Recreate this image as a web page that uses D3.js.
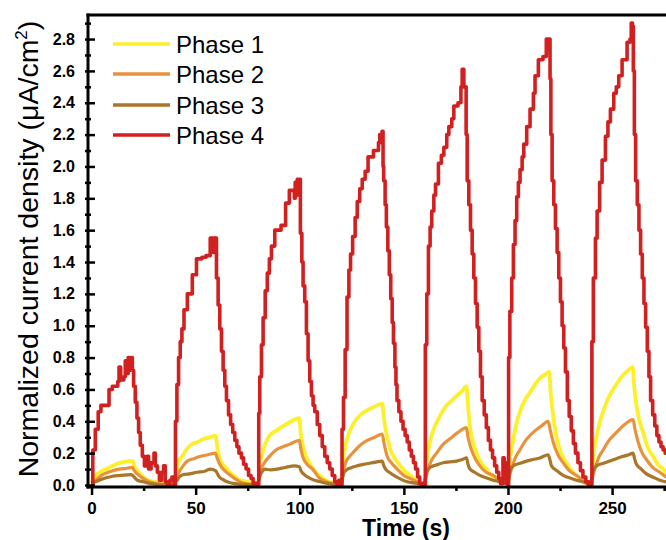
<!DOCTYPE html>
<html>
<head>
<meta charset="utf-8">
<script src="https://cdn.jsdelivr.net/npm/d3@7"></script>
<style>
  body { margin: 0; background: #fff; }
  svg { display: block; font-family: "Liberation Sans", Arial, sans-serif; }
  .tick text { font-weight: bold; font-size: 16px; fill: #000; font-family: "Liberation Sans", Arial, sans-serif; }
</style>
</head>
<body>
<div class="canvas"></div>
<script>
// ---- data: [time (s), current density] ----
var phaseNames = ["Phase 1", "Phase 2", "Phase 3", "Phase 4"];

var phase1 = [
  [0,0.01],[1,0.04],[2,0.06],[4,0.08],[7,0.1],[10,0.12],[14,0.14],[18,0.15],[19.8,0.15],[20.5,0.12],[22,0.09],[24,0.06],[27,0.03],[30,0.02],[34,0.01],[39.8,0.01],
  [40.3,0.03],[41,0.1],[42,0.15],[43.5,0.18],[45.5,0.22],[47.5,0.25],[51,0.27],[54,0.29],[57,0.3],[59.6,0.31],[60.3,0.25],[61.2,0.18],[63,0.13],[65,0.1],[68,0.06],[71.5,0.03],[75,0.02],[79.8,0.01],
  [80.3,0.03],[80.8,0.12],[82,0.2],[83.5,0.26],[85.5,0.31],[88.5,0.34],[92,0.37],[96,0.4],[99.8,0.42],[100.4,0.33],[101.4,0.25],[103,0.18],[104.6,0.14],[107,0.09],[109.5,0.06],[114,0.02],[119.8,0.01],
  [120.3,0.03],[120.8,0.14],[122,0.25],[123.2,0.31],[124.4,0.35],[126.5,0.4],[129.2,0.44],[132.5,0.47],[135.6,0.49],[139.6,0.51],[140.4,0.42],[141.2,0.35],[142.4,0.28],[143.6,0.22],[146,0.16],[148.4,0.12],[151,0.08],[153.2,0.06],[158,0.01],[159.8,0.01],
  [160.3,0.03],[161,0.15],[162.5,0.27],[164,0.34],[165.7,0.39],[168,0.45],[170.5,0.5],[173,0.53],[175.3,0.56],[178,0.59],[180,0.62],[180.8,0.5],[181.7,0.37],[183.2,0.27],[184.9,0.2],[187,0.14],[189.7,0.1],[192,0.06],[194.5,0.04],[199.3,0.01],
  [200.3,0.03],[201,0.16],[202.5,0.28],[204,0.38],[205.7,0.46],[208,0.53],[210.5,0.58],[213,0.63],[215.3,0.67],[217.5,0.69],[219.8,0.71],[220.5,0.58],[221.3,0.48],[223.3,0.3],[225.5,0.2],[228.1,0.14],[230.5,0.09],[232.9,0.06],[237.7,0.01],[239.8,0.01],
  [240.3,0.03],[241,0.18],[242.5,0.3],[244,0.39],[245.7,0.46],[248,0.54],[250.5,0.6],[253,0.65],[255.3,0.69],[257.8,0.72],[259.9,0.74],[260.6,0.62],[261.7,0.5],[263.2,0.4],[264.9,0.33],[267,0.24],[269.7,0.18],[272,0.13],[274.5,0.1],[278,0.06]
];

var phase2 = [
  [0,0.01],[2,0.03],[5.3,0.065],[9,0.085],[13.3,0.1],[17,0.105],[19.7,0.11],[20.5,0.09],[22.9,0.06],[25,0.04],[27.7,0.02],[34,0.005],[39.8,0],
  [40.3,0.02],[41,0.05],[42,0.08],[44,0.12],[46,0.15],[49,0.165],[52.4,0.18],[56,0.19],[59.5,0.2],[60.3,0.17],[62,0.12],[64,0.09],[66.8,0.06],[70,0.03],[73.2,0.01],[79.8,0],
  [80.3,0.03],[81,0.08],[83,0.14],[85.5,0.18],[88.6,0.22],[92,0.24],[95,0.255],[99.8,0.28],[100.5,0.23],[101.4,0.18],[103.5,0.13],[106.2,0.1],[109,0.05],[112.6,0.02],[119.8,0],
  [120.3,0.03],[121,0.09],[122,0.14],[124,0.18],[126,0.21],[129,0.25],[132.4,0.28],[136,0.3],[139.6,0.32],[140.5,0.26],[142,0.18],[144,0.14],[146.8,0.1],[150,0.06],[153.2,0.04],[158,0.01],[159.8,0],
  [160.3,0.03],[161,0.07],[161.6,0.1],[163.5,0.16],[165.7,0.2],[168.5,0.25],[172.1,0.29],[176,0.33],[180,0.36],[180.8,0.3],[182.5,0.22],[184.5,0.16],[186.5,0.12],[189.5,0.08],[192.9,0.06],[196,0.03],[198.5,0.01],
  [200.3,0.03],[201,0.07],[201.7,0.1],[203.5,0.17],[205.7,0.22],[208.5,0.28],[212.1,0.33],[216,0.37],[219.3,0.4],[220.2,0.35],[221.7,0.27],[224,0.19],[226.5,0.14],[229.5,0.09],[232.9,0.06],[236,0.03],[238.5,0.01],
  [240.3,0.03],[241,0.07],[241.7,0.1],[243.5,0.17],[245.7,0.22],[248.5,0.28],[252.1,0.33],[256,0.38],[260.1,0.41],[261,0.35],[262.5,0.27],[264.5,0.2],[266.5,0.16],[269.5,0.11],[272.9,0.08],[276,0.05],[279,0.03]
];

var phase3 = [
  [0,0.01],[3.7,0.03],[7,0.045],[10.1,0.055],[14,0.06],[18.9,0.065],[19.8,0.06],[20.5,0.05],[22,0.03],[25,0.02],[27.7,0.01],[35,0],[39.8,0],
  [40.3,0.02],[41.1,0.03],[42.5,0.055],[44.3,0.065],[47,0.07],[50.7,0.08],[54,0.085],[57.1,0.1],[59.5,0.09],[60.3,0.075],[61.1,0.055],[63,0.035],[65.1,0.02],[68,0.01],[71.5,0.005],[79.8,0],
  [80.3,0.03],[81,0.06],[82,0.085],[83,0.1],[86,0.095],[89.4,0.1],[93,0.11],[97.4,0.12],[99.8,0.115],[100.6,0.09],[102.2,0.065],[104.5,0.045],[107,0.03],[110,0.02],[113.4,0.01],[119.8,0],
  [120.3,0.03],[121.2,0.076],[122.5,0.095],[124.4,0.107],[127.5,0.12],[130.8,0.13],[135,0.14],[139.6,0.15],[140.4,0.12],[141.2,0.1],[143,0.08],[145.2,0.06],[148,0.04],[151.6,0.02],[156.4,0.01],[159.8,0],
  [160.3,0.04],[161,0.08],[162.5,0.11],[165.5,0.125],[168.9,0.14],[172,0.145],[175.3,0.15],[178,0.16],[180.1,0.17],[180.8,0.13],[181.7,0.1],[184,0.08],[186.5,0.06],[189.5,0.045],[192.9,0.03],[196,0.02],[198.5,0.01],
  [200.3,0.04],[201,0.09],[202.5,0.12],[205.5,0.135],[208.9,0.15],[212,0.16],[215.3,0.17],[219.3,0.19],[220.1,0.16],[220.9,0.12],[223.5,0.09],[226.5,0.06],[229.5,0.045],[232.9,0.03],[236,0.02],[238.5,0.01],
  [240.3,0.04],[241,0.09],[242.5,0.12],[245.5,0.135],[248.9,0.15],[252,0.165],[255.3,0.18],[258,0.19],[260.1,0.2],[260.9,0.16],[261.7,0.13],[264,0.1],[266.5,0.07],[269.5,0.05],[272.9,0.03],[276,0.02],[279,0.015]
];

// phase 4 is the stepped red trace
var phase4 = [
  [0,0],[0.6,0.22],[1.8,0.35],[3.2,0.46],[4.5,0.5],[8.4,0.6],[10,0.62],[12.6,0.65],[13.2,0.74],[14,0.66],[15.5,0.68],[16.2,0.78],[17,0.7],[17.6,0.8],[18.3,0.72],[18.9,0.8],[19.6,0.72],
  [20.2,0.62],[21,0.52],[21.8,0.42],[22.6,0.33],[23.4,0.25],[24.4,0.18],[25.4,0.12],[26.8,0.18],[27.4,0.1],[28.6,0.14],[30,0.2],[30.6,0.12],[31.6,0.08],[32.6,0.03],[33.6,0.08],[34.6,0.12],[35.4,0.02],[36.4,0],[37.6,0.03],[38.6,0.05],[39.6,0],
  [40,0],[40.3,0.4],[41,0.63],[41.8,0.8],[42.6,0.9],[43.4,0.98],[44.4,1.1],[46,1.2],[48.4,1.32],[50.4,1.42],[53,1.43],[55,1.44],[57,1.55],[57.6,1.46],[58.2,1.55],[58.8,1.46],[59.4,1.55],
  [60,1.3],[60.8,1.13],[61.6,0.98],[62.4,0.84],[63.2,0.72],[64,0.62],[64.8,0.53],[65.8,0.44],[66.8,0.38],[67.8,0.33],[68.8,0.28],[69.8,0.24],[70.8,0.2],[72,0.17],[73,0.13],[74.2,0.1],[75.4,0.06],[76.6,0.04],[77.6,0.01],[79.6,0],
  [80,0],[80.3,0.45],[80.8,0.68],[81.6,0.88],[82.4,1.05],[83.4,1.22],[84.4,1.33],[85.4,1.42],[86.4,1.5],[88,1.6],[91,1.63],[93.2,1.77],[95,1.85],[97.4,1.8],[97.8,1.9],[98.3,1.82],[98.8,1.92],[99.3,1.83],[99.8,1.92],
  [100.3,1.58],[101,1.4],[101.6,1.25],[102.4,1.15],[103.2,0.95],[104,0.78],[104.8,0.65],[105.6,0.56],[106.4,0.5],[107.2,0.46],[108.4,0.38],[109.6,0.31],[110.8,0.24],[112,0.18],[113.2,0.14],[114.4,0.1],[115.6,0.06],[116.8,0.02],[118,0],[118.8,0.03],[119.6,0],
  [120,0],[120.3,0.35],[121,0.55],[121.8,0.85],[122.7,1.18],[123.6,1.35],[124.4,1.45],[125.4,1.56],[126.6,1.68],[127.6,1.78],[128.8,1.86],[130,1.92],[131.4,1.97],[132.8,2.06],[135.4,2.1],[137.8,2.15],[138.4,2.2],[139,2.15],[139.5,2.22],
  [140,2],[140.3,1.91],[141,1.76],[141.6,1.62],[142.3,1.47],[143,1.32],[143.7,1.17],[144.4,1.02],[145,0.89],[145.7,0.74],[146.2,0.63],[146.7,0.53],[147.6,0.46],[148.6,0.4],[149.6,0.35],[150.6,0.31],[151.6,0.27],[152.6,0.22],[153.6,0.18],[154.6,0.14],[155.6,0.1],[156.6,0.05],[157.6,0.01],[159.6,0],
  [160,0],[160.3,0.88],[161,1.2],[161.8,1.5],[162.6,1.62],[163.4,1.72],[164.4,1.82],[165.2,1.89],[166.6,2.02],[168,2.07],[169.2,2.12],[170.6,2.2],[171.6,2.25],[173,2.3],[174,2.38],[176,2.4],[177.4,2.5],[178,2.61],[178.8,2.5],
  [179.4,2.5],[179.9,2.2],[180.4,1.91],[181.2,1.76],[182,1.6],[182.8,1.45],[183.6,1.3],[184.4,1.14],[185.2,0.99],[186,0.84],[186.8,0.68],[187.6,0.53],[188.6,0.44],[189.6,0.36],[190.6,0.28],[191.6,0.22],[192.6,0.17],[193.6,0.12],[194.6,0.08],[195.6,0.04],[196.4,0.01],[197.6,0.17],[198.2,0.04],[198.8,0.14],[199.4,0.01],
  [200,0],[200.3,0.8],[200.9,1.09],[201.8,1.3],[202.6,1.51],[203.4,1.66],[204.2,1.81],[205,1.9],[205.8,1.98],[206.8,2.06],[207.6,2.14],[209,2.25],[210.6,2.36],[212.2,2.46],[213,2.57],[214.6,2.67],[216.8,2.69],[218.4,2.8],[219.2,2.73],[219.6,2.8],
  [220.2,2.55],[220.6,2.2],[221.2,1.91],[222,1.76],[222.8,1.61],[223.6,1.46],[224.4,1.3],[225.2,1.15],[226,1],[226.8,0.86],[227.6,0.71],[228.5,0.53],[229.4,0.43],[230.4,0.34],[231.4,0.26],[232.4,0.2],[233.6,0.14],[234.8,0.09],[236,0.05],[237.4,0.02],[238.6,0],
  [240,0],[240.3,0.9],[241,1.3],[242,1.55],[242.8,1.72],[244,1.9],[245.2,2.04],[246.8,2.19],[248,2.28],[249.2,2.36],[250.8,2.46],[252,2.5],[253.2,2.57],[254.8,2.67],[257.2,2.78],[258.6,2.8],[259.2,2.9],[259.8,2.88],
  [260.2,2.6],[260.7,2.2],[261.3,1.91],[262.1,1.76],[262.9,1.6],[263.7,1.45],[264.5,1.3],[265.3,1.14],[266.1,0.99],[266.9,0.84],[267.7,0.68],[268.5,0.53],[269.5,0.44],[270.5,0.37],[271.5,0.31],[272.5,0.27],[273.5,0.24],[274.5,0.22],[275.5,0.2],[277,0.15],[279,0.1]
];

var xTicks = [0, 50, 100, 150, 200, 250];
var xMinorTicks = [25, 75, 125, 175, 225, 275];
var yTicks = [0, 0.2, 0.4, 0.6, 0.8, 1.0, 1.2, 1.4, 1.6, 1.8, 2.0, 2.2, 2.4, 2.6, 2.8];
var yMinorTicks = [0.1, 0.3, 0.5, 0.7, 0.9, 1.1, 1.3, 1.5, 1.7, 1.9, 2.1, 2.3, 2.5, 2.7, 2.9];

var colors = ["#fcef2c", "#e8923c", "#a9762a", "#d21f1f"];
var widths = [3.8, 3.2, 3.2, 3.6];

var series = [phase1, phase2, phase3, phase4];

// ---- layout ----
var W = 666, H = 540;
var plotL = 88, plotR = 696, plotT = 15, plotB = 487;

var svg = d3.select(".canvas")
  .append("svg")
  .attr("width", W)
  .attr("height", H);

var x = d3.scaleLinear().domain([-1.7, 290.3]).range([plotL, plotR]);
var y = d3.scaleLinear().domain([-0.0126, 2.951]).range([plotB, plotT]);

svg.append("clipPath").attr("id", "plotclip")
  .append("rect")
  .attr("x", plotL).attr("y", plotT)
  .attr("width", plotR - plotL).attr("height", plotB - plotT);

// ---- lines ----
var plot = svg.append("g").attr("clip-path", "url(#plotclip)");

series.forEach(function(d, i) {
  var line = d3.line()
    .x(function(p) { return x(p[0]); })
    .y(function(p) { return y(p[1]); })
    .curve(i === 3 ? d3.curveStepAfter : d3.curveMonotoneX);

  plot.append("path")
    .datum(d)
    .attr("fill", "none")
    .attr("stroke", colors[i])
    .attr("stroke-width", widths[i])
    .attr("stroke-linejoin", "round")
    .attr("d", line);
});

// ---- axes ----
var xAxis = svg.append("g")
  .attr("transform", "translate(0," + plotB + ")")
  .call(d3.axisBottom(x).tickValues(xTicks).tickSizeOuter(0).tickSizeInner(8).tickFormat(d3.format("d")));
xAxis.select(".domain").remove();
xAxis.selectAll(".tick line").attr("stroke", "#000").attr("stroke-width", 2.5);
xAxis.selectAll(".tick text").attr("y", 15).style("font-size", "17px");

var xMinor = svg.append("g")
  .attr("transform", "translate(0," + plotB + ")")
  .call(d3.axisBottom(x).tickValues(xMinorTicks).tickSizeOuter(0).tickSizeInner(4).tickFormat(""));
xMinor.select(".domain").remove();
xMinor.selectAll(".tick line").attr("stroke", "#000").attr("stroke-width", 2.5);

var yAxis = svg.append("g")
  .attr("transform", "translate(" + plotL + ",0)")
  .call(d3.axisLeft(y).tickValues(yTicks).tickSizeOuter(0).tickFormat(d3.format(".1f")));
yAxis.select(".domain").remove();
yAxis.selectAll(".tick line").attr("x1", -3).attr("x2", 7).attr("stroke", "#000").attr("stroke-width", 2.5);
yAxis.selectAll(".tick text").attr("x", -13);

var yMinor = svg.append("g")
  .attr("transform", "translate(" + plotL + ",0)")
  .call(d3.axisLeft(y).tickValues(yMinorTicks).tickSizeOuter(0).tickFormat(""));
yMinor.select(".domain").remove();
yMinor.selectAll(".tick line").attr("x1", -3).attr("x2", 3).attr("stroke", "#000").attr("stroke-width", 2.5);

// frame lines: left, bottom, top (right side is cut off)
svg.append("line").attr("x1", plotL).attr("x2", plotL).attr("y1", plotT - 1.5).attr("y2", plotB + 1.5)
  .attr("stroke", "#000").attr("stroke-width", 3);
svg.append("line").attr("x1", plotL - 1.5).attr("x2", W).attr("y1", plotB).attr("y2", plotB)
  .attr("stroke", "#000").attr("stroke-width", 3);
svg.append("line").attr("x1", plotL - 1.5).attr("x2", W).attr("y1", plotT).attr("y2", plotT)
  .attr("stroke", "#000").attr("stroke-width", 3);

// ---- axis titles ----
svg.append("text")
  .attr("x", 406)
  .attr("y", 536)
  .attr("text-anchor", "middle")
  .style("font-weight", "bold")
  .style("font-size", "23px")
  .text("Time (s)");

var yTitle = svg.append("text")
  .attr("transform", "translate(38,249) rotate(-90)")
  .attr("text-anchor", "middle")
  .style("font-size", "28.5px");
yTitle.append("tspan").text("Normalized current density (\u03bcA/cm");
yTitle.append("tspan").attr("dy", -11).style("font-size", "17px").text("2");
yTitle.append("tspan").attr("dy", 11).text(")");

// ---- legend ----
var legend = svg.append("g");
var legendY = [44, 74, 105, 135];
phaseNames.forEach(function(name, i) {
  legend.append("line")
    .attr("x1", 113).attr("x2", 170)
    .attr("y1", legendY[i]).attr("y2", legendY[i])
    .attr("stroke", colors[i])
    .attr("stroke-width", 3.5);
  legend.append("text")
    .attr("x", 176)
    .attr("y", legendY[i] + 9)
    .style("font-size", "24px")
    .text(name);
});
</script>
</body>
</html>
